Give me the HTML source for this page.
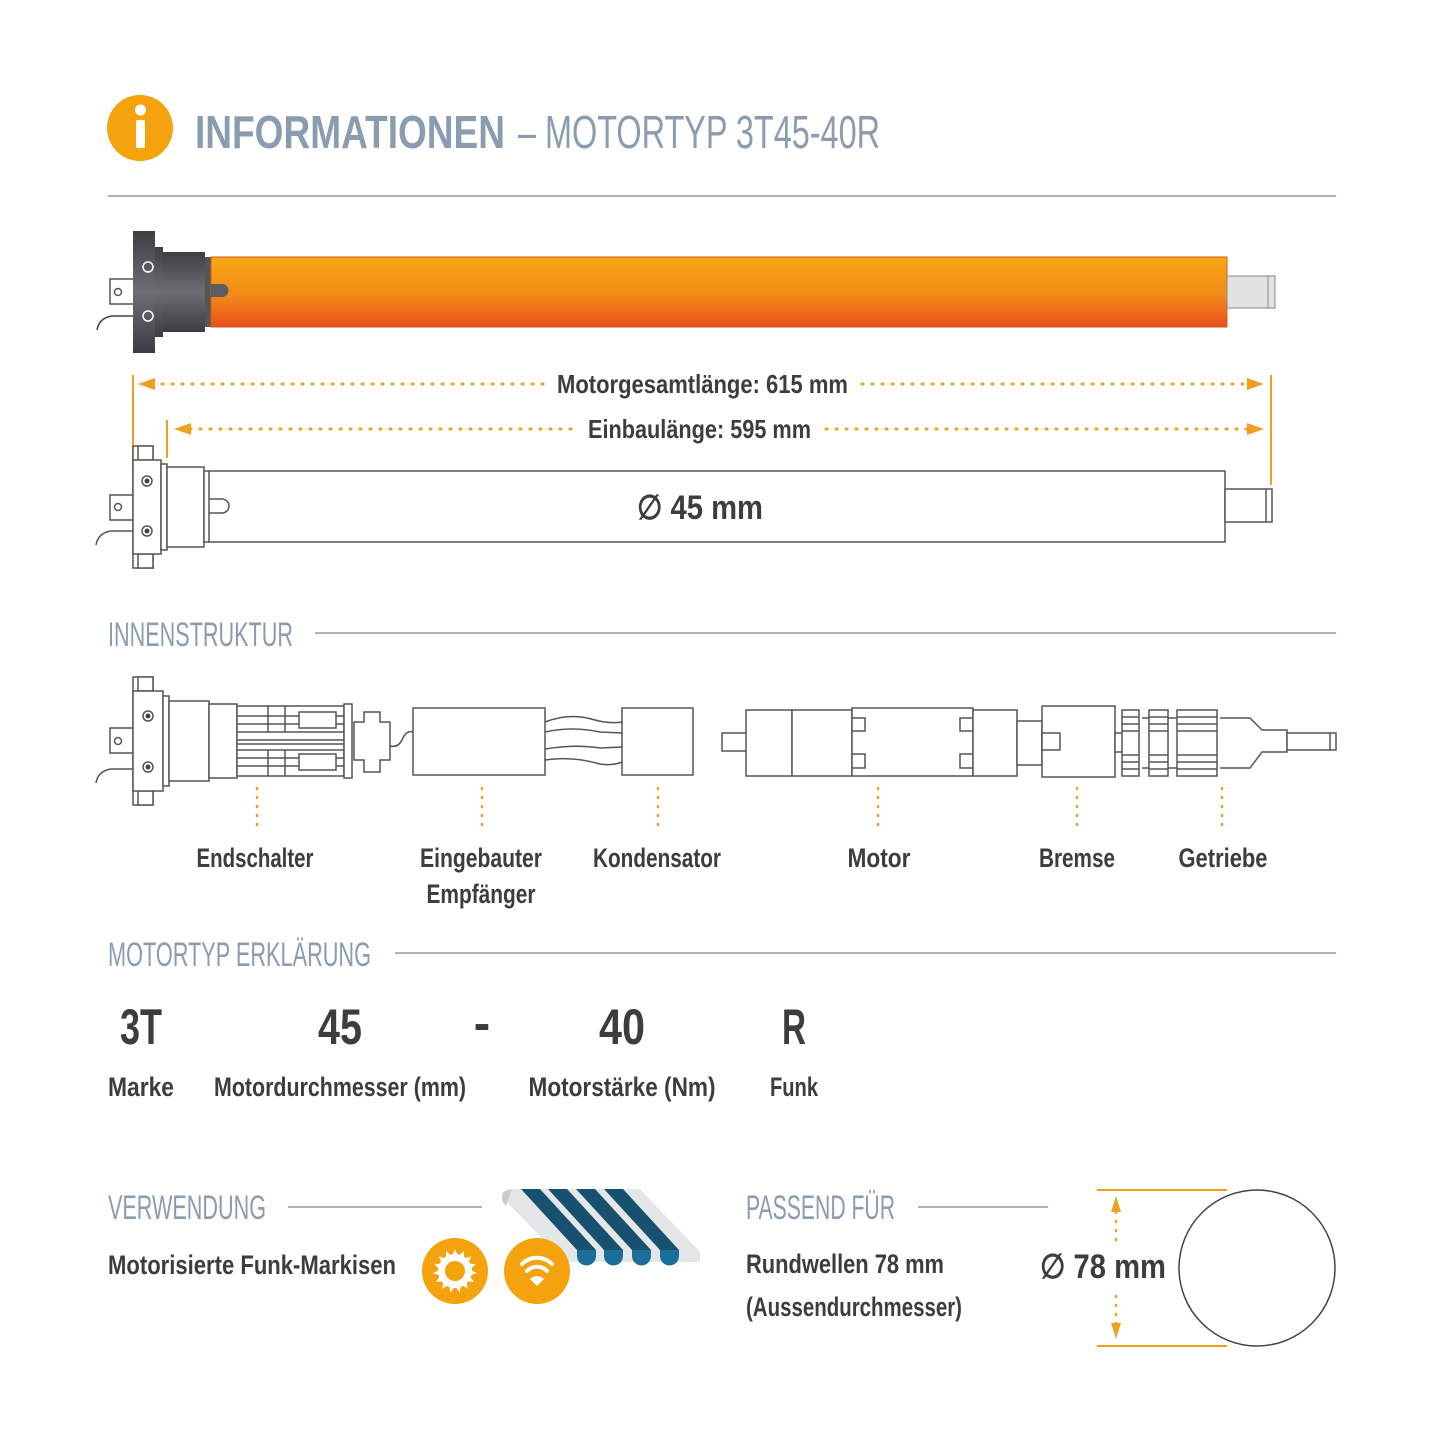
<!DOCTYPE html>
<html><head><meta charset="utf-8"><style>body{margin:0;background:#fff}svg{display:block}text{font-family:"Liberation Sans Narrow","Liberation Sans",sans-serif}</style></head><body>
<svg width="1445" height="1445" viewBox="0 0 1445 1445" xmlns="http://www.w3.org/2000/svg">
<defs>
<linearGradient id="og" x1="0" y1="0" x2="0" y2="1"><stop offset="0" stop-color="#f7a813"/><stop offset="0.55" stop-color="#f28a17"/><stop offset="1" stop-color="#e7501f"/></linearGradient>
<linearGradient id="gg" x1="0" y1="0" x2="0" y2="1"><stop offset="0" stop-color="#3c3f44"/><stop offset="0.5" stop-color="#6b6e73"/><stop offset="1" stop-color="#3a3d42"/></linearGradient>
</defs>
<!-- header -->
<circle cx="140" cy="128" r="33" fill="#f4a20e"/>
<rect x="136" y="120" width="9" height="28" fill="#fff" rx="2"/><circle cx="140.5" cy="110" r="5.5" fill="#fff"/>
<text x="195" y="148" font-size="46" font-weight="bold" fill="#8a9cb0" textLength="310" lengthAdjust="spacingAndGlyphs">INFORMATIONEN</text>
<text x="518" y="148" font-size="46" fill="#8a9cb0" textLength="362" lengthAdjust="spacingAndGlyphs">– MOTORTYP 3T45-40R</text>
<line x1="108" y1="196" x2="1336" y2="196" stroke="#a9b4bf" stroke-width="2"/>

<!-- orange motor -->
<path d="M97,330 Q99,318 112,316 L133,316" fill="none" stroke="#444" stroke-width="1.5"/>
<rect x="110" y="279" width="24" height="25" fill="#fff" stroke="#555" stroke-width="1.5"/><circle cx="118" cy="292" r="3.5" fill="none" stroke="#555" stroke-width="1.5"/>
<rect x="133" y="231" width="22" height="122" fill="url(#gg)"/>
<rect x="155" y="247" width="8" height="90" fill="url(#gg)"/>
<rect x="163" y="252" width="42" height="80" fill="url(#gg)"/>
<rect x="205" y="257" width="7" height="70" fill="#555"/>
<circle cx="148" cy="267" r="5" fill="none" stroke="#fff" stroke-width="1.5"/><circle cx="148" cy="316" r="5" fill="none" stroke="#fff" stroke-width="1.5"/>
<rect x="211" y="257" width="1016" height="70" fill="url(#og)" stroke="#d85a1a" stroke-width="1"/>
<path d="M211,284 L222,284 A6,6 0 0 1 222,297 L211,297z" fill="#5a5d62"/>
<rect x="1227" y="276" width="48" height="32" fill="#e2e2e2" stroke="#888"/>
<line x1="1268" y1="276" x2="1268" y2="308" stroke="#888"/>

<!-- dimensions -->
<g stroke="#f0a020" stroke-width="2">
<line x1="133" y1="375" x2="133" y2="466"/><line x1="1271" y1="375" x2="1271" y2="485"/><line x1="167" y1="420" x2="167" y2="458"/>
</g>
<g stroke="#f0a020" stroke-width="3" stroke-dasharray="1 9" stroke-linecap="round" fill="none">
<line x1="152" y1="384" x2="545" y2="384"/><line x1="862" y1="384" x2="1250" y2="384"/>
<line x1="190" y1="429" x2="575" y2="429"/><line x1="826" y1="429" x2="1250" y2="429"/>
</g>
<path d="M138,384 L155,378 L155,390z M1264,384 L1247,378 L1247,390z M174,429 L191,423 L191,435z M1264,429 L1247,423 L1247,435z" fill="#f0a020"/>
<text x="557" y="393" font-size="26" font-weight="bold" fill="#3d3d3d" textLength="291" lengthAdjust="spacingAndGlyphs">Motorgesamtlänge: 615 mm</text>
<text x="588" y="438" font-size="26" font-weight="bold" fill="#3d3d3d" textLength="223" lengthAdjust="spacingAndGlyphs">Einbaulänge: 595 mm</text>

<!-- outline motor -->
<g fill="#fff" stroke="#555" stroke-width="1.5">
<path d="M96,545 Q98,533 111,531 L133,531" fill="none"/>
<rect x="110" y="495" width="24" height="25"/><circle cx="118" cy="507" r="3.5"/>
<rect x="133" y="446" width="20" height="122"/>
<rect x="138" y="446" width="15" height="14"/><rect x="138" y="554" width="15" height="14"/>
<rect x="133" y="460" width="28" height="94"/>
<rect x="161" y="464" width="6" height="86"/>
<rect x="167" y="467" width="37" height="80"/>
<rect x="204" y="471" width="1021" height="71"/>
<path d="M209,471 L209,542 M209,499 L222,499 A7,7 0 0 1 222,513 L209,513"/>
<rect x="1225" y="489" width="47" height="33"/><line x1="1266" y1="489" x2="1266" y2="522"/>
<circle cx="147" cy="481" r="5"/><circle cx="147" cy="531" r="5"/>
</g>
<circle cx="147" cy="481" r="2.5" fill="#444"/><circle cx="147" cy="531" r="2.5" fill="#444"/>
<text x="637" y="519" font-size="34" font-weight="bold" fill="#3d3d3d" textLength="126" lengthAdjust="spacingAndGlyphs">∅ 45 mm</text>

<!-- INNENSTRUKTUR -->
<text x="108" y="646" font-size="34" fill="#8a9cb0" textLength="185" lengthAdjust="spacingAndGlyphs">INNENSTRUKTUR</text>
<line x1="315" y1="633" x2="1336" y2="633" stroke="#a9b4bf" stroke-width="2"/>
<g fill="#fff" stroke="#555" stroke-width="1.5">
<path d="M96,783 Q98,771 111,769 L133,769" fill="none"/>
<rect x="110" y="728" width="24" height="25"/><circle cx="118" cy="741" r="3.5"/>
<rect x="133" y="677" width="20" height="128"/>
<rect x="138" y="677" width="15" height="14"/><rect x="138" y="791" width="15" height="14"/>
<rect x="133" y="691" width="30" height="100"/>
<rect x="163" y="696" width="6" height="90"/>
<rect x="169" y="701" width="40" height="80"/>
<rect x="209" y="704" width="28" height="74"/>
<rect x="237" y="706" width="107" height="70"/>
<path d="M237,716 H344 M237,724 H344 M237,732 H344 M237,750 H344 M237,758 H344 M237,766 H344 M237,740 H344 M237,744 H344 M268,706 V732 M285,706 V732 M268,750 V776 M285,750 V776" fill="none"/>
<rect x="299" y="712" width="37" height="16"/><rect x="299" y="754" width="37" height="16"/>
<rect x="344" y="704" width="8" height="74"/>
<path d="M354,722 H364 V712 H380 V722 H390 V760 H380 V772 H364 V760 H354z"/>
<path d="M390,746 Q398,748 402,740 Q406,730 413,732" fill="none"/>
<rect x="413" y="708" width="132" height="67"/>
<path d="M545,722 Q570,712 595,720 Q610,724 622,722 M545,732 Q572,726 600,732 L622,733 M545,749 Q575,744 600,748 L622,747 M545,760 Q572,756 600,764 Q612,766 622,762" fill="none"/>
<rect x="622" y="708" width="71" height="67"/>
<rect x="722" y="733" width="25" height="18"/>
<rect x="746" y="710" width="46" height="66"/>
<rect x="792" y="710" width="60" height="66"/>
<path d="M852,708 H973 V776 H852z" />
<path d="M852,718 H865 V731 H852 M852,754 H865 V768 H852 M973,718 H960 V731 H973 M973,754 H960 V768 H973" fill="none"/>
<rect x="973" y="710" width="44" height="66"/>
<rect x="1017" y="721" width="25" height="44"/>
<rect x="1042" y="706" width="73" height="71"/>
<rect x="1042" y="733" width="18" height="17"/>
<rect x="1115" y="733" width="12" height="19"/>
<path d="M1142,718 H1180 M1142,768 H1180 M1220,718 L1250,718 L1262,730 H1287 V752 H1262 L1250,768 H1220" fill="none"/>
<rect x="1122" y="710" width="17" height="66"/><rect x="1149" y="710" width="19" height="66"/><rect x="1177" y="710" width="40" height="66"/>
<path d="M1122,717 H1139 M1122,724 H1139 M1122,731 H1139 M1122,755 H1139 M1122,762 H1139 M1122,769 H1139 M1149,717 H1168 M1149,724 H1168 M1149,731 H1168 M1149,755 H1168 M1149,762 H1168 M1149,769 H1168 M1177,717 H1217 M1177,724 H1217 M1177,731 H1217 M1177,755 H1217 M1177,762 H1217 M1177,769 H1217" fill="none"/>
<rect x="1287" y="733" width="49" height="17"/><line x1="1330" y1="733" x2="1330" y2="750"/>
<circle cx="148" cy="716" r="5"/><circle cx="148" cy="767" r="5"/>
</g>
<circle cx="148" cy="716" r="2.5" fill="#444"/><circle cx="148" cy="767" r="2.5" fill="#444"/>
<g stroke="#f0a020" stroke-width="2.5" stroke-dasharray="1 8" stroke-linecap="round">
<line x1="257" y1="788" x2="257" y2="830"/><line x1="482" y1="788" x2="482" y2="830"/><line x1="658" y1="788" x2="658" y2="830"/>
<line x1="878" y1="788" x2="878" y2="830"/><line x1="1077" y1="788" x2="1077" y2="830"/><line x1="1222" y1="788" x2="1222" y2="830"/>
</g>
<g font-size="27" font-weight="bold" fill="#3d3d3d" text-anchor="middle">
<text x="255" y="867" textLength="117" lengthAdjust="spacingAndGlyphs">Endschalter</text>
<text x="481" y="867" textLength="122" lengthAdjust="spacingAndGlyphs">Eingebauter</text>
<text x="481" y="903" textLength="109" lengthAdjust="spacingAndGlyphs">Empfänger</text>
<text x="657" y="867" textLength="128" lengthAdjust="spacingAndGlyphs">Kondensator</text>
<text x="879" y="867" textLength="63" lengthAdjust="spacingAndGlyphs">Motor</text>
<text x="1077" y="867" textLength="76" lengthAdjust="spacingAndGlyphs">Bremse</text>
<text x="1223" y="867" textLength="89" lengthAdjust="spacingAndGlyphs">Getriebe</text>
</g>

<!-- MOTORTYP ERKLÄRUNG -->
<text x="108" y="966" font-size="34" fill="#8a9cb0" textLength="263" lengthAdjust="spacingAndGlyphs">MOTORTYP ERKLÄRUNG</text>
<line x1="395" y1="953" x2="1336" y2="953" stroke="#a9b4bf" stroke-width="2"/>
<g font-size="50" font-weight="bold" fill="#3d3d3d" text-anchor="middle">
<text x="141" y="1044" textLength="42" lengthAdjust="spacingAndGlyphs">3T</text><text x="340" y="1044" textLength="44" lengthAdjust="spacingAndGlyphs">45</text><text x="482" y="1040">-</text><text x="622" y="1044" textLength="46" lengthAdjust="spacingAndGlyphs">40</text><text x="794" y="1044" textLength="24" lengthAdjust="spacingAndGlyphs">R</text>
</g>
<g font-size="27" font-weight="bold" fill="#3d3d3d" text-anchor="middle">
<text x="141" y="1096" textLength="66" lengthAdjust="spacingAndGlyphs">Marke</text>
<text x="340" y="1096" textLength="252" lengthAdjust="spacingAndGlyphs">Motordurchmesser (mm)</text>
<text x="622" y="1096" textLength="187" lengthAdjust="spacingAndGlyphs">Motorstärke (Nm)</text>
<text x="794" y="1096" textLength="48" lengthAdjust="spacingAndGlyphs">Funk</text>
</g>

<!-- VERWENDUNG -->
<text x="108" y="1219" font-size="34" fill="#8a9cb0" textLength="158" lengthAdjust="spacingAndGlyphs">VERWENDUNG</text>
<line x1="288" y1="1207" x2="482" y2="1207" stroke="#a9b4bf" stroke-width="2"/>
<text x="108" y="1274" font-size="27" font-weight="bold" fill="#3d3d3d" textLength="288" lengthAdjust="spacingAndGlyphs">Motorisierte Funk-Markisen</text>
<path d="M507,1189 L640,1189 L700,1252 L700,1262 L565,1262 L505,1200z" fill="#e4e6e8"/>
<path d="M503,1192 Q500,1200 506,1206 L512,1189z" fill="#c9cbcd"/>
<g fill="#17516f">
<path d="M521,1189 L540,1189 L596,1250 L577,1250z"/>
<path d="M548,1189 L567,1189 L623,1250 L604,1250z"/>
<path d="M576,1189 L595,1189 L651,1250 L632,1250z"/>
<path d="M604,1189 L623,1189 L679,1250 L660,1250z"/>
</g>
<g fill="#1a6f99"><path d="M577,1250h19v6a9.5,9.5 0 0 1 -19,0z"/><path d="M604,1250h19v6a9.5,9.5 0 0 1 -19,0z"/><path d="M632,1250h19v6a9.5,9.5 0 0 1 -19,0z"/><path d="M660,1250h19v6a9.5,9.5 0 0 1 -19,0z"/></g>
<circle cx="455" cy="1271" r="33" fill="#f4a20e"/>
<g fill="#fff"><circle cx="455" cy="1271" r="17"/>
<g transform="translate(455 1271)"><path d="M0,-22 L3,-15 L-3,-15z" id="ray"/><use href="#ray" transform="rotate(24)"/><use href="#ray" transform="rotate(48)"/><use href="#ray" transform="rotate(72)"/><use href="#ray" transform="rotate(96)"/><use href="#ray" transform="rotate(120)"/><use href="#ray" transform="rotate(144)"/><use href="#ray" transform="rotate(168)"/><use href="#ray" transform="rotate(192)"/><use href="#ray" transform="rotate(216)"/><use href="#ray" transform="rotate(240)"/><use href="#ray" transform="rotate(264)"/><use href="#ray" transform="rotate(288)"/><use href="#ray" transform="rotate(312)"/><use href="#ray" transform="rotate(336)"/></g></g>
<circle cx="455" cy="1271" r="10" fill="#f4a20e"/>
<circle cx="537" cy="1271" r="33" fill="#f4a20e"/>
<g fill="none" stroke="#fff" stroke-width="4" stroke-linecap="round"><path d="M522,1264 A21,21 0 0 1 552,1264"/><path d="M527,1271 A14,14 0 0 1 547,1271"/></g>
<path d="M537,1286 L530,1279 A10,10 0 0 1 544,1279z" fill="#fff"/>

<!-- PASSEND FÜR -->
<text x="746" y="1219" font-size="34" fill="#8a9cb0" textLength="149" lengthAdjust="spacingAndGlyphs">PASSEND FÜR</text>
<line x1="918" y1="1207" x2="1048" y2="1207" stroke="#a9b4bf" stroke-width="2"/>
<text x="746" y="1273" font-size="27" font-weight="bold" fill="#3d3d3d" textLength="198" lengthAdjust="spacingAndGlyphs">Rundwellen 78 mm</text>
<text x="746" y="1316" font-size="27" font-weight="bold" fill="#3d3d3d" textLength="216" lengthAdjust="spacingAndGlyphs">(Aussendurchmesser)</text>
<line x1="1097" y1="1190" x2="1227" y2="1190" stroke="#f0a020" stroke-width="2"/>
<line x1="1097" y1="1346" x2="1227" y2="1346" stroke="#f0a020" stroke-width="2"/>
<g stroke="#f0a020" stroke-width="2.5" stroke-dasharray="1 8" stroke-linecap="round"><line x1="1116" y1="1212" x2="1116" y2="1240"/><line x1="1116" y1="1296" x2="1116" y2="1324"/></g>
<path d="M1116,1196 L1111,1212 L1121,1212z M1116,1339 L1111,1323 L1121,1323z" fill="#f0a020"/>
<text x="1040" y="1278" font-size="34" font-weight="bold" fill="#3d3d3d" textLength="126" lengthAdjust="spacingAndGlyphs">∅ 78 mm</text>
<circle cx="1257" cy="1268" r="78" fill="none" stroke="#444" stroke-width="1.5"/>
</svg>
</body></html>
